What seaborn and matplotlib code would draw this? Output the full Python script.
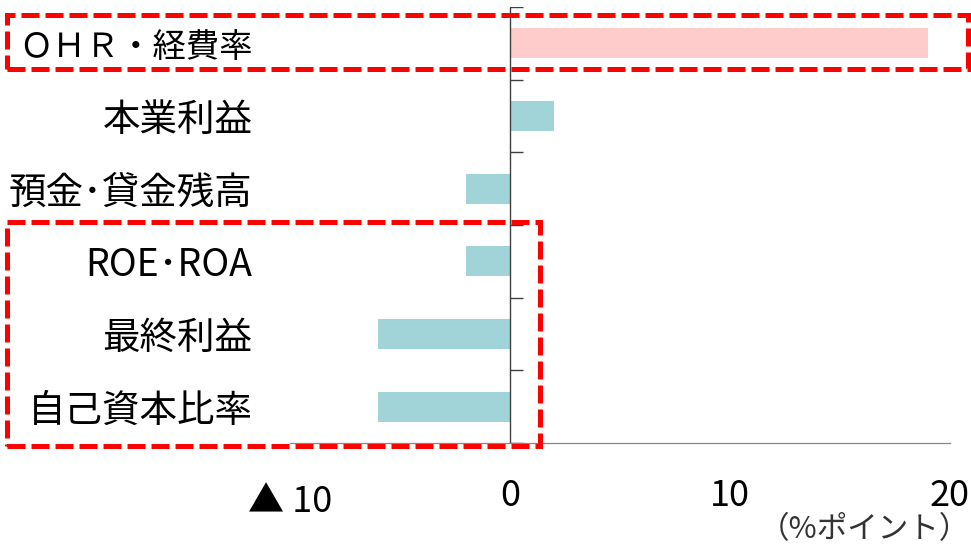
import numpy as np
import pandas as pd
import matplotlib
matplotlib.use("Agg")
import matplotlib.pyplot as plt
import matplotlib.transforms as mtransforms
from matplotlib.patches import Rectangle
import seaborn as sns

# Data: change in each indicator (% points)
categories = ["ＯＨＲ・経費率", "本業利益", "預金･貸金残高", "ROE･ROA", "最終利益", "自己資本比率"]
values = [19.0, 2.0, -2.0, -2.0, -6.0, -6.0]
bar_colors = ["#FFCCCC", "#A1D4D8", "#A1D4D8", "#A1D4D8", "#A1D4D8", "#A1D4D8"]
x_ticks = [-10, 0, 10, 20]
x_tick_labels = ["▲ 10", "0", "10", "20"]
unit_label = "（%ポイント）"

sns.set_style("white")
plt.rcParams["font.family"] = ["Noto Sans CJK JP", "DejaVu Sans"]

W, H = 971, 546
fig = plt.figure(figsize=(W / 100, H / 100), dpi=100)
ax = fig.add_axes([290 / W, 1 - 443 / H, 660 / W, 436 / H])

df = pd.DataFrame({"category": categories, "value": values})
sns.barplot(data=df, x="value", y="category", hue="category",
            palette=dict(zip(categories, bar_colors)), legend=False,
            orient="h", width=0.41, linewidth=0, saturation=1, ax=ax)

ax.set_xlim(x_ticks[0], x_ticks[-1])
ax.set_ylim(len(categories) - 0.5, -0.5)
ax.set_xlabel("")
ax.set_ylabel("")

# Spines: only the bottom axis line, plus a vertical line at zero
for side in ["top", "right", "left"]:
    ax.spines[side].set_visible(False)
ax.spines["bottom"].set_color("#868686")
ax.spines["bottom"].set_linewidth(0.9)

ax.axvline(0, color="#404040", lw=1.0, zorder=3)
boundaries = np.arange(len(categories) + 1) - 0.5
ax.hlines(boundaries, 0, 0.6, color="#404040", lw=1.0, zorder=3)

# X axis ticks
ax.set_xticks(x_ticks)
ax.set_xticklabels(x_tick_labels)
ax.tick_params(axis="x", direction="in", length=8.6, width=0.9,
               color="#808080", pad=25, labelsize=26, labelcolor="black")
ax.tick_params(axis="y", length=0, pad=27, labelsize=27, labelcolor="black")

# The first category label is set slightly smaller (full-width letters)
ylabels = ax.get_yticklabels()
ylabels[0].set_fontsize(24)

# Negative tick label sits a little lower
offset = mtransforms.ScaledTranslation(0, -6 / 100, fig.dpi_scale_trans)
xl = ax.get_xticklabels()
xl[0].set_transform(xl[0].get_transform() + offset)

# Unit label
fig.text(0.999, 1 - 530 / H, unit_label, ha="right", va="center",
         fontsize=22, color="#333333")

# Red dashed highlight boxes (figure pixel coordinates)
def dashed_box(x0, y0, x1, y1):
    rect = Rectangle((x0 / W, 1 - y1 / H), (x1 - x0) / W, (y1 - y0) / H,
                     transform=fig.transFigure, fill=False,
                     edgecolor="#FF0000", lw=3.6,
                     linestyle=(0, (3.6, 1.2)), clip_on=False, zorder=10)
    fig.patches.append(rect)

dashed_box(6.5, 14.5, 968, 69)
dashed_box(6.5, 222, 540, 446)

fig.savefig("out.png", dpi=100)
